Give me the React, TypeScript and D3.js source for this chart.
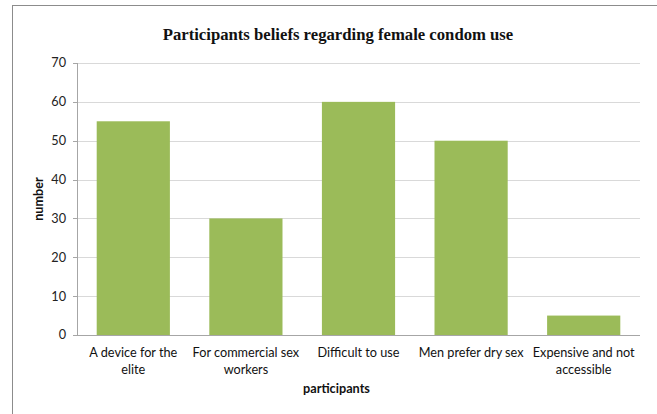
import React, { useEffect, useRef } from 'react';
import * as d3 from 'd3';

const categories = [
    'A device for the|elite',
    'For commercial sex|workers',
    'Difficult to use',
    'Men prefer dry sex',
    'Expensive and not|accessible'
];
const values = [55, 30, 60, 50, 5];
const yTicks = [0, 10, 20, 30, 40, 50, 60, 70];

const W = 657;
const H = 414;
const labelFont = 'Lato, "Open Sans", sans-serif';

const App: React.FC = () => {
    const svgRef = useRef<SVGSVGElement>(null);

    useEffect(() => {
        if (!svgRef.current) return;
        const svg = d3.select(svgRef.current);
        svg.selectAll('*').remove();

        const margin = { top: 63, right: 17, bottom: 79, left: 77 };
        const width = W - margin.left - margin.right;
        const height = H - margin.top - margin.bottom;

        // outer chart border
        svg.append('rect')
            .attr('x', 12.5)
            .attr('y', 5.5)
            .attr('width', W)
            .attr('height', H)
            .attr('fill', 'white')
            .attr('stroke', '#8c8c8c');

        svg.append('text')
            .attr('x', 338)
            .attr('y', 40)
            .attr('text-anchor', 'middle')
            .attr('font-family', '"Liberation Serif", "Times New Roman", serif')
            .attr('font-weight', 'bold')
            .attr('font-size', '16.7px')
            .attr('fill', '#111')
            .text('Participants beliefs regarding female condom use');

        const xScale = d3.scaleBand<string>()
            .domain(categories)
            .range([0, width])
            .paddingInner(0.35)
            .paddingOuter(0.175);

        const yScale = d3.scaleLinear()
            .domain([0, 70])
            .range([height, 0]);

        const g = svg.append('g')
            .attr('transform', `translate(${margin.left},${margin.top})`);

        // gridlines
        g.selectAll('.grid')
            .data(yTicks.filter(t => t > 0))
            .enter()
            .append('line')
            .attr('x1', 0)
            .attr('x2', width)
            .attr('y1', d => Math.round(yScale(d)) + 0.5)
            .attr('y2', d => Math.round(yScale(d)) + 0.5)
            .attr('stroke', '#d9d9d9');

        // y axis ticks + labels
        const yAxis = g.append('g');
        yAxis.append('line')
            .attr('x1', 0.5).attr('x2', 0.5)
            .attr('y1', 0).attr('y2', height)
            .attr('stroke', '#a6a6a6');
        yAxis.selectAll('.tick')
            .data(yTicks)
            .enter()
            .append('line')
            .attr('x1', -4).attr('x2', 0)
            .attr('y1', d => Math.round(yScale(d)) + 0.5)
            .attr('y2', d => Math.round(yScale(d)) + 0.5)
            .attr('stroke', '#a6a6a6');
        yAxis.selectAll('.tlabel')
            .data(yTicks)
            .enter()
            .append('text')
            .attr('x', -11)
            .attr('y', d => yScale(d))
            .attr('dy', '0.35em')
            .attr('text-anchor', 'end')
            .attr('font-family', labelFont)
            .attr('font-size', '12.7px')
            .attr('fill', '#222')
            .text(d => d);

        // bars
        g.selectAll('.bar')
            .data(values)
            .enter()
            .append('rect')
            .attr('x', (d, i) => xScale(categories[i]) as number)
            .attr('y', d => yScale(d))
            .attr('width', xScale.bandwidth())
            .attr('height', d => height - yScale(d))
            .attr('fill', '#9bbb59');

        // x axis line
        g.append('line')
            .attr('x1', 0).attr('x2', width)
            .attr('y1', height + 0.5).attr('y2', height + 0.5)
            .attr('stroke', '#a6a6a6');

        // category labels
        const catLabels = g.selectAll('.cat')
            .data(categories)
            .enter()
            .append('text')
            .attr('text-anchor', 'middle')
            .attr('font-family', labelFont)
            .attr('font-size', '12.7px')
            .attr('fill', '#111')
            .attr('transform', d => `translate(${(xScale(d) as number) + xScale.bandwidth() / 2},${height + 22})`);
        catLabels.each(function (d) {
            const parts = d.split('|');
            parts.forEach((p, i) => {
                d3.select(this).append('tspan')
                    .attr('x', 0)
                    .attr('y', i * 17)
                    .text(p);
            });
        });

        // axis titles
        svg.append('text')
            .attr('x', margin.left + width / 2 - 22)
            .attr('y', 393)
            .attr('text-anchor', 'middle')
            .attr('font-family', labelFont)
            .attr('font-weight', 'bold')
            .attr('font-size', '12.7px')
            .attr('fill', '#111')
            .text('participants');

        svg.append('text')
            .attr('transform', `translate(43,${margin.top + height / 2}) rotate(-90)`)
            .attr('text-anchor', 'middle')
            .attr('font-family', labelFont)
            .attr('font-weight', 'bold')
            .attr('font-size', '12.7px')
            .attr('fill', '#111')
            .text('number');
    }, []);

    return (
        <svg
            ref={svgRef}
            width={W}
            height={H}
            style={{ position: 'absolute', left: 0, top: 0, background: 'white' }}
        />
    );
};

export default App;
